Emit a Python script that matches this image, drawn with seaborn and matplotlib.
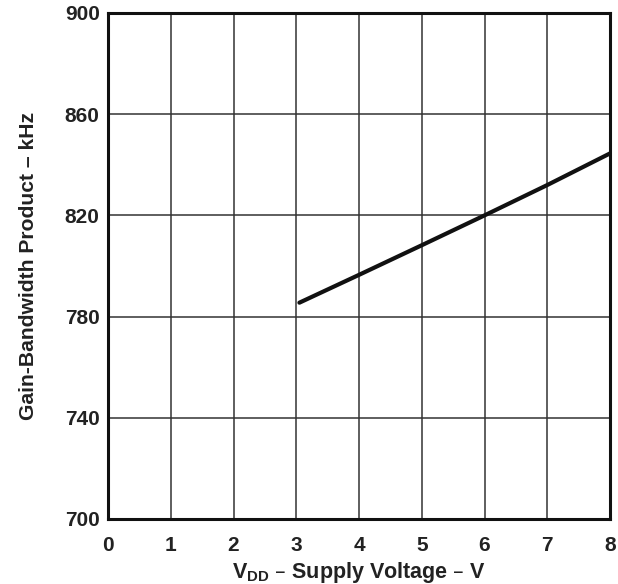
import matplotlib
matplotlib.use("Agg")
import matplotlib.pyplot as plt
import seaborn as sns
import pandas as pd

# Data
vdd = [3.05, 4, 5, 6, 7, 8]
gbw = [785.5, 796.5, 808.2, 820.0, 832.0, 844.5]
x_ticks = [0, 1, 2, 3, 4, 5, 6, 7, 8]
y_ticks = [700, 740, 780, 820, 860, 900]

sns.set_theme(style="white")
plt.rcParams['font.family'] = ['Liberation Sans', 'DejaVu Sans']
plt.rcParams['font.weight'] = 'bold'
plt.rcParams['mathtext.default'] = 'regular'

df = pd.DataFrame({"vdd": vdd, "gbw": gbw})

fig = plt.figure(figsize=(6.18, 5.84), dpi=100)
ax = fig.add_axes([108/618, 1-519/584, (610-108)/618, (519-13)/584])

sns.lineplot(data=df, x="vdd", y="gbw", ax=ax, color="#111111", linewidth=3.0)

ax.set_xlim(0, 8)
ax.set_ylim(700, 900)
ax.set_xticks(x_ticks)
ax.set_yticks(y_ticks)
ax.set_xticklabels([str(t) for t in x_ticks], fontsize=15, fontweight='bold')
ax.set_yticklabels([str(t) for t in y_ticks], fontsize=15, fontweight='bold')
ax.tick_params(axis='x', length=0, pad=12, colors='#222222')
ax.tick_params(axis='y', length=0, pad=6, colors='#222222')
ax.grid(True, color='#333333', linewidth=1.1)

for s in ax.spines.values():
    s.set_visible(True)
    s.set_color('#111111')
    s.set_linewidth(2.2)

ax.set_xlabel("V$_{DD}$ – Supply Voltage – V", fontsize=15.5, fontweight='bold', labelpad=4, color='#222222')
ax.set_ylabel("Gain-Bandwidth Product – kHz", fontsize=15.2, fontweight='bold', labelpad=19, color='#222222')

fig.savefig("out.png", dpi=100)
